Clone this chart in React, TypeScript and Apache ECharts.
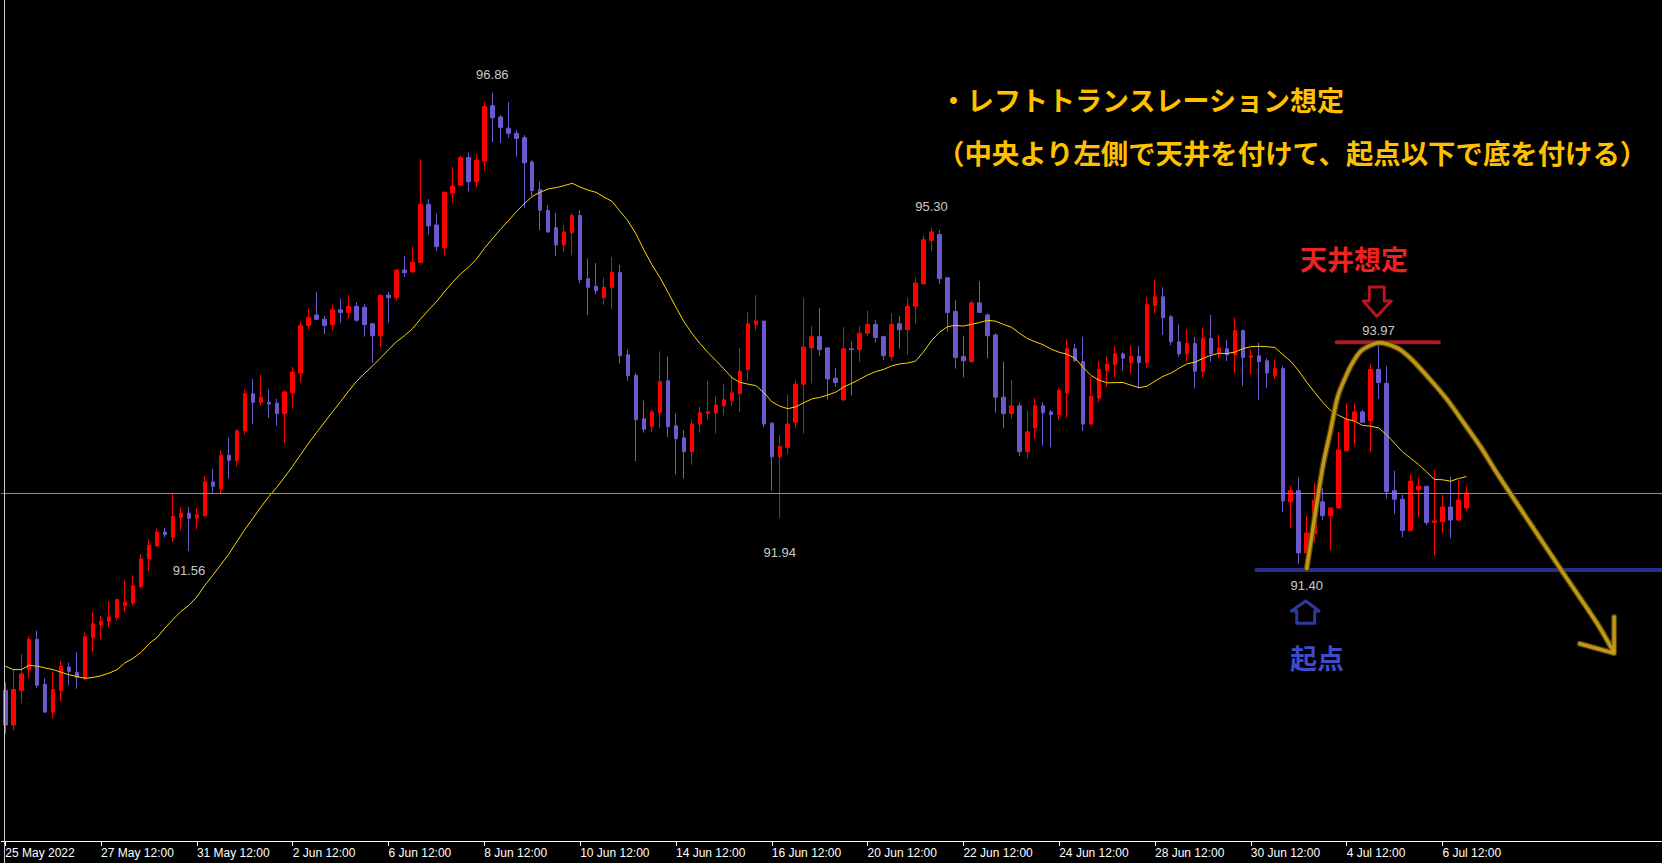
import React, { useEffect, useRef } from "react";
import * as echarts from "echarts";

// ---- 4H candles (25 May 2022 12:00 .. 7 Jul 2022) ----
const open = [
  89.95, 89.55, 89.95, 90.19, 90.54, 90.02, 89.70, 89.95, 90.22, 90.16,
  90.09, 90.56, 90.71, 90.75, 90.79, 90.93, 90.96, 91.15, 91.47, 91.62,
  91.78, 91.72, 91.95, 92.00, 91.94, 91.97, 92.36, 92.28, 92.67, 92.61,
  92.95, 93.38, 93.28, 93.28, 93.27, 93.15, 93.39, 93.62, 94.17, 94.29,
  94.24, 94.18, 94.35, 94.32, 94.39, 94.38, 94.19, 94.05, 94.52, 94.49,
  94.81, 94.79, 94.90, 95.57, 95.33, 95.07, 95.70, 95.79, 96.11, 95.83,
  96.07, 96.71, 96.58, 96.45, 96.39, 96.34, 96.06, 95.74, 95.50, 95.30,
  95.10, 95.24, 95.44, 94.71, 94.62, 94.49, 94.61, 94.78, 93.83, 93.59,
  93.09, 93.00, 93.16, 93.53, 93.01, 92.87, 92.71, 93.03, 93.15, 93.16,
  93.24, 93.30, 93.38, 93.66, 94.18, 94.22, 93.04, 92.65, 92.76, 93.05,
  93.49, 93.91, 94.04, 93.91, 93.56, 93.31, 93.90, 93.89, 94.08, 94.18,
  94.04, 93.81, 94.19, 94.12, 94.39, 94.65, 95.15, 95.22, 94.72, 94.33,
  93.81, 93.75, 94.43, 94.29, 94.06, 93.34, 93.15, 93.24, 92.71, 92.99,
  93.24, 93.17, 93.14, 93.39, 93.90, 93.75, 93.03, 93.33, 93.65, 93.72,
  93.84, 93.74, 93.81, 93.74, 94.40, 94.50, 94.27, 93.98, 93.84, 93.96,
  93.64, 94.02, 93.84, 93.90, 93.83, 94.11, 93.80, 93.82, 93.76, 93.59,
  93.67, 92.13, 92.26, 91.54, 91.76, 92.13, 91.97, 92.06, 92.72, 93.07,
  93.17, 93.07, 93.66, 93.50, 92.26, 92.16, 91.80, 92.27, 92.31, 91.89,
  91.90, 92.07, 91.92, 92.06,
];
const high = [
  90.04, 90.19, 90.37, 90.58, 90.64, 90.09, 90.17, 90.29, 90.27, 90.39,
  90.62, 90.86, 90.81, 90.98, 91.01, 91.22, 91.28, 91.52, 91.70, 91.82,
  91.83, 92.23, 92.07, 92.07, 92.06, 92.43, 92.51, 92.72, 92.87, 92.97,
  93.43, 93.55, 93.60, 93.43, 93.32, 93.42, 93.69, 94.21, 94.36, 94.56,
  94.28, 94.41, 94.48, 94.52, 94.44, 94.42, 94.19, 94.52, 94.56, 94.82,
  94.97, 95.08, 96.09, 95.63, 95.46, 95.71, 96.00, 96.13, 96.17, 96.15,
  96.75, 96.86, 96.60, 96.75, 96.43, 96.37, 96.08, 95.83, 95.56, 95.47,
  95.33, 95.47, 95.50, 94.94, 94.89, 94.72, 94.96, 94.87, 93.89, 93.62,
  93.30, 93.20, 93.87, 93.81, 93.15, 92.96, 93.08, 93.23, 93.53, 93.35,
  93.49, 93.59, 93.91, 94.33, 94.52, 94.22, 93.05, 92.90, 93.37, 93.54,
  94.49, 94.16, 94.37, 93.91, 93.68, 94.15, 93.98, 94.16, 94.34, 94.23,
  94.04, 94.31, 94.28, 94.49, 94.72, 95.21, 95.30, 95.27, 94.72, 94.46,
  94.05, 94.46, 94.68, 94.31, 94.08, 93.75, 93.54, 93.28, 93.19, 93.33,
  93.28, 93.19, 93.45, 94.01, 93.96, 94.04, 93.57, 93.76, 93.81, 93.93,
  93.86, 93.94, 93.93, 94.50, 94.70, 94.61, 94.29, 94.18, 94.13, 94.04,
  94.14, 94.29, 94.06, 94.00, 94.26, 94.12, 93.89, 93.97, 93.79, 93.77,
  93.70, 92.31, 92.41, 91.97, 92.35, 92.29, 92.06, 92.94, 93.27, 93.27,
  93.19, 93.72, 93.97, 93.70, 92.49, 92.21, 92.45, 92.41, 92.31, 92.50,
  92.21, 92.42, 92.38, 92.31,
];
const low = [
  89.45, 89.49, 89.80, 90.09, 89.98, 89.69, 89.63, 89.82, 90.01, 89.97,
  90.07, 90.39, 90.54, 90.68, 90.76, 90.85, 90.93, 91.13, 91.33, 91.61,
  91.72, 91.67, 91.80, 91.56, 91.81, 91.96, 92.23, 92.22, 92.40, 92.54,
  92.91, 93.03, 93.24, 93.10, 93.01, 92.81, 93.22, 93.51, 94.13, 94.24,
  94.07, 94.11, 94.20, 94.25, 94.21, 94.04, 93.74, 93.92, 94.20, 94.46,
  94.73, 94.77, 94.90, 95.22, 95.03, 94.98, 95.59, 95.79, 95.72, 95.77,
  95.96, 96.29, 96.28, 96.34, 96.12, 95.53, 95.66, 95.27, 95.24, 94.97,
  95.02, 94.98, 94.66, 94.29, 94.53, 94.41, 94.36, 93.73, 93.53, 92.60,
  92.93, 92.94, 92.98, 92.88, 92.45, 92.40, 92.56, 92.93, 93.08, 92.92,
  93.13, 93.24, 93.17, 93.53, 94.11, 92.99, 92.26, 91.94, 92.68, 92.99,
  92.92, 93.50, 93.82, 93.31, 93.46, 93.29, 93.36, 93.75, 94.05, 93.97,
  93.77, 93.76, 93.90, 93.83, 94.19, 94.64, 95.03, 94.65, 94.10, 93.67,
  93.57, 93.74, 94.32, 93.79, 93.16, 92.98, 93.09, 92.66, 92.63, 92.86,
  92.78, 92.76, 93.08, 93.10, 93.75, 92.95, 93.02, 93.28, 93.46, 93.57,
  93.65, 93.61, 93.44, 93.68, 94.31, 94.06, 93.94, 93.81, 93.75, 93.44,
  93.57, 93.75, 93.79, 93.76, 93.62, 93.47, 93.60, 93.31, 93.45, 93.55,
  92.01, 91.83, 91.41, 91.40, 91.67, 91.92, 91.57, 92.05, 92.71, 92.79,
  93.05, 92.71, 93.32, 92.17, 91.99, 91.72, 91.79, 91.95, 91.86, 91.51,
  91.77, 91.71, 91.91, 92.03,
];
const close = [
  89.55, 89.96, 90.14, 90.54, 90.01, 89.70, 89.96, 90.23, 90.17, 90.10,
  90.57, 90.72, 90.75, 90.80, 91.00, 90.97, 91.16, 91.47, 91.63, 91.78,
  91.75, 91.96, 92.00, 91.94, 91.98, 92.36, 92.31, 92.67, 92.61, 92.95,
  93.38, 93.28, 93.34, 93.26, 93.15, 93.40, 93.63, 94.17, 94.26, 94.24,
  94.17, 94.35, 94.32, 94.39, 94.23, 94.18, 94.05, 94.52, 94.49, 94.81,
  94.78, 94.90, 95.57, 95.32, 95.08, 95.71, 95.78, 96.11, 95.83, 96.08,
  96.70, 96.57, 96.46, 96.39, 96.33, 96.05, 95.73, 95.50, 95.25, 95.10,
  95.25, 95.44, 94.70, 94.61, 94.57, 94.61, 94.78, 93.82, 93.59, 93.08,
  92.97, 93.17, 93.52, 93.00, 92.86, 92.71, 93.03, 93.16, 93.17, 93.25,
  93.31, 93.39, 93.64, 94.19, 94.22, 93.03, 92.65, 92.77, 93.03, 93.49,
  93.92, 94.04, 93.89, 93.55, 93.51, 93.90, 93.89, 94.08, 94.18, 94.03,
  93.82, 94.18, 94.12, 94.39, 94.66, 95.16, 95.25, 94.71, 94.32, 93.80,
  93.76, 94.43, 94.32, 94.05, 93.34, 93.15, 93.24, 92.71, 92.94, 93.24,
  93.16, 93.14, 93.42, 93.90, 93.76, 93.03, 93.35, 93.66, 93.72, 93.84,
  93.79, 93.81, 93.74, 94.41, 94.50, 94.26, 93.98, 93.84, 93.96, 93.64,
  94.02, 93.84, 93.91, 93.83, 94.11, 93.80, 93.82, 93.75, 93.62, 93.67,
  92.14, 92.26, 91.54, 91.77, 92.15, 91.97, 92.06, 92.73, 93.08, 93.17,
  93.05, 93.66, 93.51, 92.25, 92.16, 91.80, 92.37, 92.31, 91.89, 91.91,
  92.07, 91.92, 92.15, 92.23,
];

// 20-period moving average: first 19 values (they
// depend on candles left of the window), the rest averaged from the closes.
const maPeriod = 20;
const maLead = [
  90.23, 90.19, 90.19, 90.24, 90.23, 90.21, 90.19, 90.16, 90.13, 90.11,
  90.09, 90.10, 90.12, 90.15, 90.19, 90.27, 90.32, 90.39, 90.49,
];

// time axis labels, one every 12 candles (2 trading days)
const tickLabels = [
  "25 May 2022", "27 May 12:00", "31 May 12:00", "2 Jun 12:00", "6 Jun 12:00",
  "8 Jun 12:00", "10 Jun 12:00", "14 Jun 12:00", "16 Jun 12:00", "20 Jun 12:00",
  "22 Jun 12:00", "24 Jun 12:00", "28 Jun 12:00", "30 Jun 12:00", "4 Jul 12:00",
  "6 Jul 12:00",
];
const tickEvery = 12;

// swing highs / lows labelled on the chart: [candle index, price]
const pivotHighs = [[61, 96.86], [116, 95.30], [172, 93.97]];
const pivotLows = [[23, 91.56], [97, 91.94], [163, 91.40]];

// hand-drawn annotations in (candle index, price) space
const ceilingLine = [[166.75, 93.975], [179.55, 93.975]];
const startLine = [[156.7, 91.342], [207.5, 91.342]];
const goldCurve = [
  [163.0, 91.36], [164.4, 92.19], [165.1, 92.58], [166.0, 92.96], [166.9, 93.35],
  [167.9, 93.58], [168.7, 93.73], [169.75, 93.87], [171.0, 93.94], [172.05, 93.97],
  [174.3, 93.91], [176.0, 93.79], [178.5, 93.54], [180.6, 93.31], [182.7, 93.04],
  [184.75, 92.77], [186.84, 92.46], [191.0, 91.88], [195.18, 91.30],
  [199.34, 90.73], [201.42, 90.40],
];
const goldHead = [[197.2, 90.49], [201.5, 90.38], [201.5, 90.8]];
const ceilingArrow = [
  [170.84, 94.614], [172.71, 94.614], [172.71, 94.452], [173.59, 94.452],
  [171.78, 94.273], [170.09, 94.452], [170.84, 94.452], [170.84, 94.614],
];
const startArrow = [
  [162.875, 90.984], [164.55, 90.868], [164.0, 90.868], [164.0, 90.726],
  [161.75, 90.726], [161.75, 90.868], [161.09, 90.868], [162.875, 90.984],
];

const noteLine1 = "・レフトトランスレーション想定";
const noteLine2 = "（中央より左側で天井を付けて、起点以下で底を付ける）";
const ceilingNote = "天井想定";
const startNote = "起点";

export default function App() {
  const ref = useRef<HTMLDivElement>(null);

  useEffect(() => {
    const el = ref.current;
    if (!el) return;
    const chart = echarts.init(el, undefined, { renderer: "svg" });

    const SLOT = 8;
    const NSLOTS = 208;
    const cats = Array.from({ length: NSLOTS }, (_, i) => String(i));
    const candles = open.map((o, i) => [o, close[i], low[i], high[i]]);
    const ma = close.map((_, i) => {
      if (i < maPeriod - 1) return maLead[i];
      let s = 0;
      for (let k = i - maPeriod + 1; k <= i; k++) s += close[k];
      return +(s / maPeriod).toFixed(4);
    });
    const isTick = (i: number) =>
      i % tickEvery === 0 && i / tickEvery < tickLabels.length;

    const highDy = [-18, -21, -12];
    const lowDy = [19, 34, 21];
    const pivotData = [
      ...pivotHighs.map((p, k) => ({
        value: p,
        label: { offset: [0, highDy[k]] },
      })),
      ...pivotLows.map((p, k) => ({
        value: p,
        label: { offset: [0, lowDy[k]] },
      })),
    ];

    const annot = (
      data: number[][],
      color: string,
      width: number,
      z: number,
      extra: any = {}
    ) => ({
      type: "line",
      xAxisIndex: 1,
      yAxisIndex: 0,
      data,
      symbol: "none",
      silent: true,
      clip: false,
      z,
      lineStyle: { color, width, cap: "round", join: "round" },
      ...extra,
    });

    const jp = '"Noto Sans CJK JP", "Noto Sans CJK SC", sans-serif';
    const goldEdge = "rgba(92,72,6,0.9)";
    const goldCore = "rgba(202,160,24,0.92)";

    chart.setOption({
      animation: false,
      backgroundColor: "#000000",
      grid: { left: 1.3, top: 0, width: NSLOTS * SLOT, height: 841 },
      xAxis: [
        {
          type: "category",
          data: cats,
          boundaryGap: true,
          axisLine: { show: true, lineStyle: { color: "#ffffff", width: 1 } },
          axisTick: {
            show: true,
            alignWithLabel: true,
            interval: (i: number) => isTick(i),
            length: 5,
            lineStyle: { color: "#ffffff" },
          },
          axisLabel: {
            show: true,
            interval: (i: number) => isTick(i),
            formatter: (_v: string, i: number) =>
              isTick(i) ? tickLabels[i / tickEvery] : "",
            align: "left",
            color: "#ffffff",
            fontSize: 12,
            fontFamily: '"Liberation Sans", Arial, sans-serif',
            margin: 6,
          },
          splitLine: { show: false },
        },
        {
          type: "value",
          min: -0.5,
          max: NSLOTS - 0.5,
          show: false,
          splitLine: { show: false },
        },
      ],
      yAxis: {
        type: "value",
        min: 88.2091,
        max: 97.9317,
        show: false,
        splitLine: { show: false },
      },
      series: [
        {
          type: "candlestick",
          data: candles,
          barWidth: 4,
          z: 2,
          itemStyle: {
            color: "#FF0000",
            color0: "#6A5ACD",
            borderColor: "#FF0000",
            borderColor0: "#6A5ACD",
            borderWidth: 1,
          },
          markLine: {
            silent: true,
            symbol: "none",
            label: { show: false },
            lineStyle: { color: "#8e8e96", type: "solid", width: 1 },
            data: [{ yAxis: close[close.length - 1] }],
          },
        },
        {
          type: "line",
          data: ma,
          symbol: "none",
          silent: true,
          z: 3,
          lineStyle: { color: "#FFD700", width: 1 },
        },
        {
          type: "scatter",
          data: pivotData,
          symbolSize: 1,
          silent: true,
          z: 4,
          itemStyle: { color: "rgba(0,0,0,0)" },
          label: {
            show: true,
            position: "inside",
            color: "#ffffff",
            fontSize: 13,
            fontFamily: '"Liberation Sans", Arial, sans-serif',
            formatter: (p: any) => Number(p.value[1]).toFixed(2),
          },
        },
        annot(ceilingLine, "#A81D28", 4, 6),
        annot(startLine, "#272F8C", 4, 6),
        annot(goldCurve, goldEdge, 6, 7, { smooth: 0.3 }),
        annot(goldCurve, goldCore, 3.5, 8, { smooth: 0.3 }),
        annot(goldHead, goldEdge, 6, 7),
        annot(goldHead, goldCore, 3.5, 8),
        annot(ceilingArrow, "#B5161F", 3, 6),
        annot(startArrow, "#2F3A9E", 3, 6),
      ],
      graphic: [
        {
          type: "line",
          z: 100,
          shape: { x1: 4.5, y1: 0, x2: 4.5, y2: 863 },
          style: { stroke: "#c8c8c8", lineWidth: 1 },
        },
        {
          type: "text",
          x: 940,
          y: 99,
          z: 50,
          style: {
            text: noteLine1,
            fill: "#FFC000",
            font: `bold 27px ${jp}`,
            textAlign: "left",
            textVerticalAlign: "middle",
            verticalAlign: "middle",
          },
        },
        {
          type: "text",
          x: 937,
          y: 152,
          z: 50,
          style: {
            text: noteLine2,
            fill: "#FFC000",
            font: `bold 27.4px ${jp}`,
            textAlign: "left",
            textVerticalAlign: "middle",
            verticalAlign: "middle",
          },
        },
        {
          type: "text",
          x: 1354,
          y: 258,
          z: 50,
          style: {
            text: ceilingNote,
            fill: "#EE2222",
            font: `bold 27px ${jp}`,
            textAlign: "center",
            textVerticalAlign: "middle",
            verticalAlign: "middle",
          },
        },
        {
          type: "text",
          x: 1317,
          y: 657,
          z: 50,
          style: {
            text: startNote,
            fill: "#3F4BC8",
            font: `bold 27px ${jp}`,
            textAlign: "center",
            textVerticalAlign: "middle",
            verticalAlign: "middle",
          },
        },
      ],
    });

    return () => {
      chart.dispose();
    };
  }, []);

  return (
    <div
      ref={ref}
      style={{
        position: "fixed",
        left: 0,
        top: 0,
        width: 1662,
        height: 863,
        background: "#000",
      }}
    />
  );
}
